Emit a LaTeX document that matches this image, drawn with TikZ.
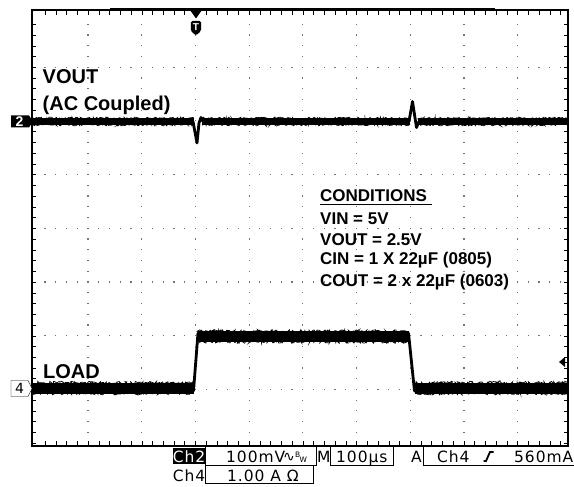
\documentclass[tikz,border=0pt]{standalone}
\usepackage{fontspec}
\setmainfont{Liberation Sans}
\newfontfamily\statusfont[LetterSpace=6]{DejaVu Sans}
\usetikzlibrary{decorations.pathmorphing}
\tikzset{
	wavelabel/.style={black, anchor=base west, inner sep=0pt, font=\fontsize{20}{20}\selectfont\bfseries},
	condlabel/.style={black, anchor=base west, inner sep=0pt, font=\fontsize{17}{17}\selectfont\bfseries},
	statuslabel/.style={black, anchor=base west, inner sep=0pt, font=\statusfont\fontsize{15.5}{15.5}\selectfont},
	griddot/.style={fill=black!55},
	tracebody/.style={draw=black, line width=#1},
	tracenoise/.style={draw=black, line width=0.7pt, decorate, decoration={random steps, segment length=1pt, amplitude=#1}},
	fastedge/.style={draw=black, line width=2.8pt, line join=round, line cap=round},
}
\begin{document}
\begin{tikzpicture}[x=1pt, y=-1pt]
		\useasboundingbox (0,0) rectangle (574,487);
		\fill[white] (0,0) rectangle (574,487);
		\foreach \k in {1,...,9}
			\foreach \i in {1,...,39}
				\fill[griddot] ({34.3+53.7*\k-0.6},{13.5+10.74*\i-0.6}) rectangle +(1.2,1.2);
		\foreach \k in {1,...,7}
			\foreach \i in {1,...,49}
				\fill[griddot] ({34.3+10.74*\i-0.6},{13.5+53.7*\k-0.6}) rectangle +(1.2,1.2);
		\foreach \i in {1,...,49} {
			\draw[draw=black, thin, solid] ({34.3+10.74*\i},10) -- +(0,5);
			\draw[draw=black, thin, solid] ({34.3+10.74*\i},446) -- +(0,-5);
		}
		\foreach \i in {1,...,40} {
			\draw[draw=black, thin, solid] (32,{13.5+10.74*\i}) -- +(4,0);
			\draw[draw=black, thin, solid] (568,{13.5+10.74*\i}) -- +(-4,0);
		}
		\draw[draw=black, line width=2pt, solid] (32,10) rectangle (568,446);
		\draw[draw=black, line width=3pt, solid] (110,10) -- (495,10);
		\draw[tracebody=7pt] (32,121.5) -- (194,121.5);
		\draw[tracebody=7pt] (202,121.5) -- (410,121.5);
		\draw[tracebody=7pt] (418,121.5) -- (568,121.5);
		\draw[tracenoise=1.3pt] (32,118.5) -- (194,118.5) (202,118.5) -- (410,118.5) (418,118.5) -- (568,118.5);
		\draw[tracenoise=1.3pt] (32,124.5) -- (194,124.5) (202,124.5) -- (410,124.5) (418,124.5) -- (568,124.5);
		\draw[fastedge] (193,121.5) -- (197,143) -- (199,123) -- (201,117.5) -- (203,121.5);
		\draw[fastedge] (409,121.5) -- (412.5,101.5) -- (416.5,127.5) -- (419,121.5);
		\draw[tracebody=11pt] (32,388) -- (193.5,388);
		\draw[tracebody=11pt] (198,336.5) -- (408.5,336.5);
		\draw[tracebody=11pt] (414.5,388) -- (568,388);
		\draw[tracenoise=1.8pt] (32,383) -- (193,383) (198,331.5) -- (408,331.5) (415,383) -- (568,383);
		\draw[tracenoise=1.8pt] (32,393) -- (193,393) (198,341.5) -- (408,341.5) (415,393) -- (568,393);
		\draw[fastedge] (193.5,391) -- (198,333);
		\draw[fastedge] (408.5,333) -- (414.5,391);
		\fill[black] (11,115.5) -- (29,115.5) -- (33,121.5) -- (29,127.5) -- (11,127.5) -- cycle;
		\node (mark2) [white, inner sep=0pt, font=\fontsize{14}{14}\selectfont\bfseries] at (19.5,121.5) {2};
		\draw[draw=black, thin, solid, fill=white] (11,380.5) -- (28,380.5) -- (32,388.5) -- (28,396.5) -- (11,396.5) -- cycle;
		\node (mark4) [black, inner sep=0pt, font=\statusfont\fontsize{14}{14}\selectfont] at (19.5,388.5) {4};
		\fill[black] (190,10) -- (202,10) -- (196,18.5) -- cycle;
		\fill[black, rounded corners=1.5pt] (190.8,21) -- (201,21) -- (201,31) -- (196,35.5) -- (190.8,31) -- cycle;
		\node (trig) [white, inner sep=0pt, font=\fontsize{10}{10}\selectfont\bfseries] at (196,27.5) {T};
		\fill[black] (559,362) -- (565,357) -- (565,367) -- cycle;
		\draw[draw=black, thin, solid] (565,362) -- (568,362);
		\node (vout) [wavelabel] at (42.5,84) {VOUT};
		\node (ac) [wavelabel] at (42.5,111) {(AC Coupled)};
		\node (load) [wavelabel] at (43,378) {LOAD};
		\node (cond) [condlabel] at (320,201) {CONDITIONS};
		\draw[draw=black, line width=1.6pt] (cond.base west) ++(0,3.5) -- ++(111.5,0);
		\node (vin) [condlabel] at (320,224) {VIN = 5V};
		\node (vouteq) [condlabel] at (320,245) {VOUT = 2.5V};
		\node (cin) [condlabel] at (320,265) {CIN = 1 X 22µF (0805)};
		\node (cout) [condlabel] at (320,286) {COUT = 2 x 22µF (0603)};
		\fill[black] (173,448) rectangle (205,464);
		\node (ch2) [statuslabel, white, anchor=base] at (189,462.5) {Ch2};
		\draw[draw=black, thin, solid] (205,447) -- (205,465) -- (316,465) -- (316,447);
		\draw[draw=black, thin, solid] (330,447) -- (330,465) -- (393,465) -- (393,447);
		\draw[draw=black, thin, solid] (423,447) -- (423,465) -- (574,465);
		\draw[draw=black, thin, solid] (205,465) -- (205,483) -- (313,483) -- (313,465);
		\node (volts) [statuslabel] at (226,462.5) {100mV};
		\node (coup) [statuslabel, font=\statusfont\fontsize{14}{14}\selectfont] at (283,461.5) {∿};
		\node (bwb) [statuslabel, font=\statusfont\fontsize{7.5}{7.5}\selectfont] at (295,457) {B};
		\node (bww) [statuslabel, font=\statusfont\fontsize{7.5}{7.5}\selectfont] at (299.5,462) {W};
		\node (mode) [statuslabel] at (317,462.5) {M};
		\node (time) [statuslabel] at (336,462.5) {100µs};
		\node (atrig) [statuslabel] at (411,462.5) {A};
		\node (tsrc) [statuslabel] at (437,462.5) {Ch4};
		\draw[draw=black, line width=1.8pt] (483.5,461) -- (486,461) -- (490,452) -- (493.5,452);
		\node (tlevel) [statuslabel] at (514,462.5) {560mA};
		\node (ch4) [statuslabel, anchor=base] at (189,481) {Ch4};
		\node (amps) [statuslabel] at (227,481) {1.00 A Ω};
\end{tikzpicture}
\end{document}
